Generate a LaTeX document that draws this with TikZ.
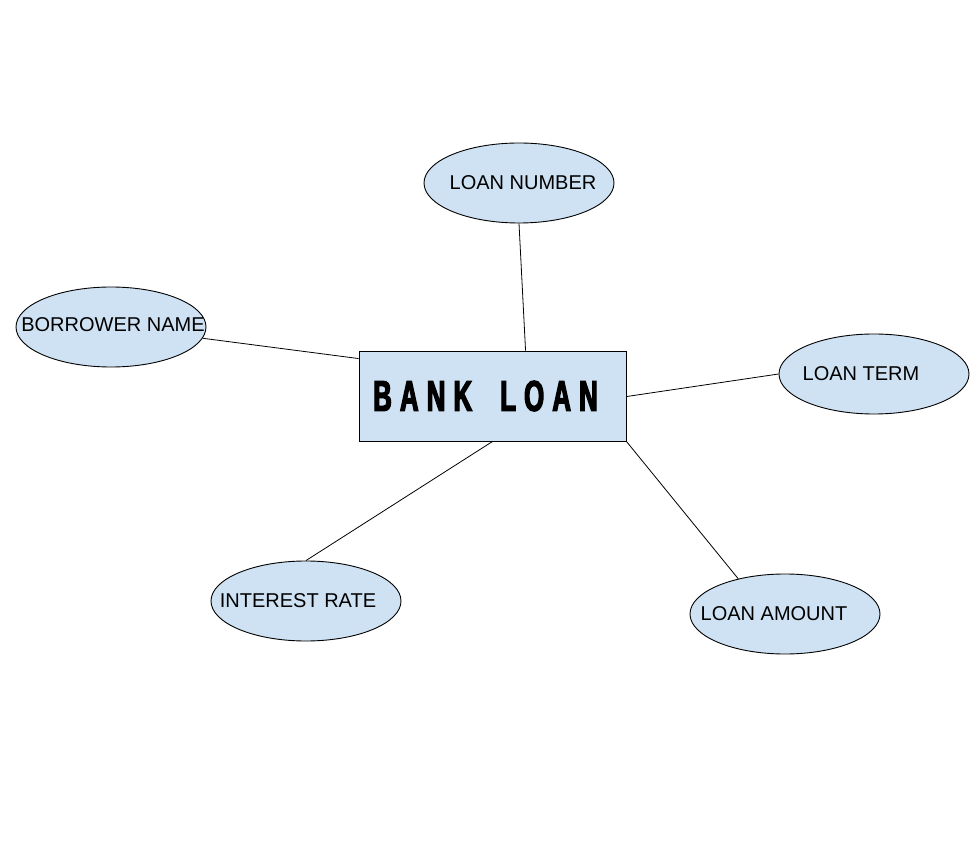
\documentclass[tikz,border=0pt]{standalone}
\usepackage{fontspec}
\setmainfont{Liberation Sans}
\newfontfamily\bankfont[FakeStretch=0.6,FakeBold=3,LetterSpace=19]{Liberation Sans Bold}
\usetikzlibrary{shapes.geometric}
\definecolor{lblue}{HTML}{CFE2F3}
\newcommand\etext[2]{\makebox[0pt]{\hspace*{#1}#2}}
\begin{document}
\begin{tikzpicture}[x=1pt,y=-1pt,
  attr/.style={ellipse,draw=black,line width=0.9pt,fill=lblue,minimum width=190pt,minimum height=80pt,inner sep=0pt,font=\fontsize{20}{24}\selectfont},
  entity/.style={rectangle,draw=black,line width=0.9pt,fill=lblue,minimum width=267pt,minimum height=90pt,inner sep=0pt},
  link/.style={draw=black,line width=0.8pt}]
\useasboundingbox (0,0) rectangle (978,866);
\node[entity] (bank) at (492.5,396) {\bankfont\fontsize{43}{48}\selectfont BANK\hspace{28pt}LOAN\hspace*{14pt}};
\node[attr] (num) at (519,183) {\etext{8pt}{LOAN NUMBER}};
\node[attr] (bor) at (111,327) {\raisebox{4pt}{\etext{4pt}{BORROWER NAME}}};
\node[attr] (term) at (874,374) {\etext{-26pt}{LOAN TERM}};
\node[attr] (rate) at (306,601) {\etext{-16pt}{INTEREST RATE}};
\node[attr] (amt) at (785,614) {\etext{-22pt}{LOAN AMOUNT}};
\draw[link] (num.south) -- ([xshift=167pt]bank.north west);
\draw[link] (bor.-7.5) -- ([yshift=-8pt]bank.north west);
\draw[link] (term.west) -- ([yshift=-46pt]bank.north east);
\draw[link] (rate.north) -- ([xshift=134pt]bank.south west);
\draw[link] (amt.143) -- (bank.south east);
\end{tikzpicture}
\end{document}
